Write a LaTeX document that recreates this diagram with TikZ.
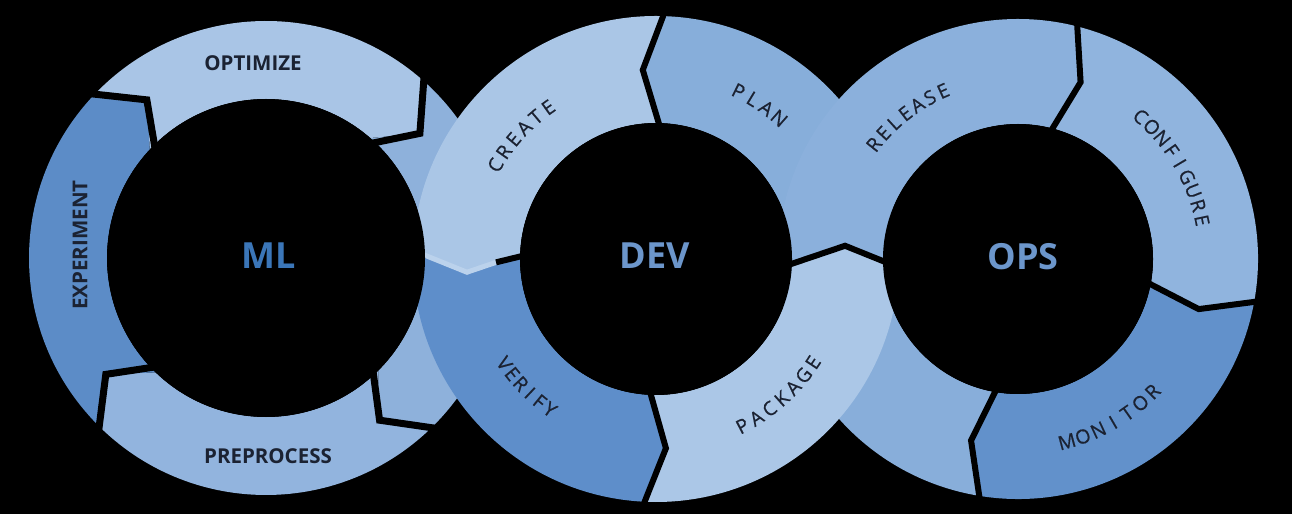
\documentclass[tikz,border=0pt]{standalone}
\usepackage{fontspec}
\setmainfont{Open Sans}
\newfontfamily\arcfont[FakeBold=0.6]{Open Sans}
\usetikzlibrary{calc}

\definecolor{optC}{HTML}{A9C5E6}
\definecolor{mlrC}{HTML}{8EB1DB}
\definecolor{preC}{HTML}{92B4DE}
\definecolor{expC}{HTML}{5C8CC7}
\definecolor{creC}{HTML}{AAC6E6}
\definecolor{planC}{HTML}{87AEDA}
\definecolor{verC}{HTML}{5E8ECA}
\definecolor{pacC}{HTML}{ABC7E7}
\definecolor{relC}{HTML}{8BB0DC}
\definecolor{cfgC}{HTML}{90B4DE}
\definecolor{monC}{HTML}{6291CB}
\definecolor{oblC}{HTML}{88AEDA}
\definecolor{paleC}{HTML}{BBD2EC}
\definecolor{lblC}{HTML}{1B2232}
\definecolor{mlC}{HTML}{3B76B8}
\definecolor{hubC}{HTML}{6C96CB}

\begin{document}
\begin{tikzpicture}[
  x=1pt, y=1pt,
  sepline/.style = {draw=black, line width=6pt, line join=miter},
  hublbl/.style  = {font=\fontsize{36}{40}\selectfont\bfseries, inner sep=0pt},
  mllbl/.style   = {font=\fontsize{20.5}{24}\selectfont\bfseries, text=lblC, inner sep=0pt},
  arclbl/.style  = {font=\fontsize{19.5}{22}\arcfont, text=lblC, inner sep=0pt},
]

\fill[black] (0,0) rectangle (1292,514);
\useasboundingbox (0,0) rectangle (1292,514);

% =============================================
% RING CENTRES
% =============================================
\coordinate (ml)  at (266,256);
\coordinate (dev) at (656,255);
\coordinate (ops) at (1018,255);
% shared DEV/OPS junction
\path (dev) ++(-2:136)   coordinate (jin);
\path (dev) ++(4:189.5)  coordinate (jk);
\path (dev) ++(-2:243)   coordinate (jout);

% =============================================
% ML RING (clockwise)
% =============================================
\foreach \cc/\ri/\ro/\aa/\ab/\dd/\col in {
    ml/159/237/137/49/-10/optC,
    ml/159/237/49/-45/-10/mlrC,
    ml/159/237/-45/-134/-10/preC,
    ml/159/237/226/137/-10/expC}
  \fill[fill=\col, shift={(\cc)}] (\aa:\ro) -- ({\aa+\dd}:{(\ri+\ro)/2}) -- (\aa:\ri)
      arc[start angle=\aa, end angle=\ab, radius=\ri]
      -- ({\ab+\dd}:{(\ri+\ro)/2}) -- (\ab:\ro)
      arc[start angle=\ab, end angle=\aa, radius=\ro] -- cycle;
\foreach \aa in {137,49,-45,226}
  \draw[sepline, line width=7pt, shift={(ml)}]
      ({\aa}:{241}) -- ({\aa-10}:{198}) -- ({\aa}:{150});

% =============================================
% OPS lower-left segment (under DEV)
% =============================================
\fill[fill=oblC, shift={(ops)}] (261:240) -- (255.5:187.5) -- (261:135)
    arc[start angle=261, end angle=180, radius=135]
    -- (jout) -- (jk) -- (jin) -- (182:240)
    arc[start angle=182, end angle=261, radius=240] -- cycle;

% =============================================
% DEV RING (counter-clockwise)
% =============================================
\foreach \cc/\ri/\ro/\aa/\ab/\dd/\col in {
    dev/136/243/-2/88/6/planC,
    dev/136/243/88/178/6/creC,
    dev/136/243/178/267/6/verC,
    dev/136/243/267/358/6/pacC}
  \fill[fill=\col, shift={(\cc)}] (\aa:\ro) -- ({\aa+\dd}:{(\ri+\ro)/2}) -- (\aa:\ri)
      arc[start angle=\aa, end angle=\ab, radius=\ri]
      -- ({\ab+\dd}:{(\ri+\ro)/2}) -- (\ab:\ro)
      arc[start angle=\ab, end angle=\aa, radius=\ro] -- cycle;

% =============================================
% OPS RING (clockwise), release over plan
% =============================================
\fill[fill=relC, shift={(ops)}] (jin) -- (jk) -- (jout) -- (180:135)
    arc[start angle=180, end angle=76, radius=135]
    -- (70.5:187.5) -- (76:240)
    arc[start angle=76, end angle=182, radius=240] -- cycle;
\foreach \cc/\ri/\ro/\aa/\ab/\dd/\col in {
    ops/135/240/76/-10/-5.5/cfgC,
    ops/135/240/-10/-99/-5.5/monC}
  \fill[fill=\col, shift={(\cc)}] (\aa:\ro) -- ({\aa+\dd}:{(\ri+\ro)/2}) -- (\aa:\ri)
      arc[start angle=\aa, end angle=\ab, radius=\ri]
      -- ({\ab+\dd}:{(\ri+\ro)/2}) -- (\ab:\ro)
      arc[start angle=\ab, end angle=\aa, radius=\ro] -- cycle;

% =============================================
% SEPARATORS
% =============================================
\foreach \cc/\ri/\ro/\aa/\dd in {dev/136/243/88/6, dev/136/243/267/6,
    ops/135/240/76/-5.5, ops/135/240/-10/-5.5, ops/135/240/261/-5.5}
  \draw[sepline, shift={(\cc)}]
      ({\aa}:{\ro+4}) -- ({\aa+\dd}:{(\ri+\ro)/2}) -- ({\aa}:{\ri-6});
\draw[sepline] ($(jk)!1.15!(jin)$) -- (jk) -- ($(jk)!1.1!(jout)$);
% create / verify seam
\draw[sepline, draw=paleC, line width=5pt, shift={(dev)}]
    (178:243) -- (184:189.5) -- (181.2:160);
\draw[sepline, shift={(dev)}] (181.2:160) -- (178:128);

% =============================================
% HUBS
% =============================================
\fill[black] (ml)  circle[radius=159];
\fill[black] (dev) circle[radius=136];
\fill[black] (ops) circle[radius=135];

\node[hublbl, text=mlC]  (mlname)  at (269,258) {ML};
\node[hublbl, text=hubC] (devname) at (655,258) {DEV};
\node[hublbl, text=hubC] (opsname) at (1023,257) {OPS};

% =============================================
% LABELS
% =============================================
\node[mllbl] (optim)  at (253,451) {OPTIMIZE};
\node[mllbl] (prepro) at (268,58)  {PREPROCESS};
\node[mllbl, rotate=90] (exper) at (80,269) {EXPERIMENT};

\foreach \cc/\rr/\st/\dl/\rt/\tag/\word in {
    dev/186/149.7/-4.86/-90/create/{C,R,E,A,T,E},
    dev/187/63.8/-5.0/-90/plan/{P,L,A,N},
    dev/184/214.6/4.05/90/verify/{V,E,R,I,F,Y},
    dev/188/297.4/4.87/90/package/{P,A,C,K,A,G,E},
    ops/184/141.5/-4.58/-90/release/{R,E,L,E,A,S,E},
    ops/188/49.3/-4.68/-90/configure/{C,O,N,F,I,G,U,R,E},
    ops/189/285/5.07/90/monitor/{M,O,N,I,T,O,R}}
  \foreach \ch [count=\i from 0] in \word
    \path (\cc) ++({\st+\dl*\i}:\rr)
      node[arclbl, rotate={\st+\dl*\i+\rt}] (\tag-\i) {\ch};

\end{tikzpicture}
\end{document}
